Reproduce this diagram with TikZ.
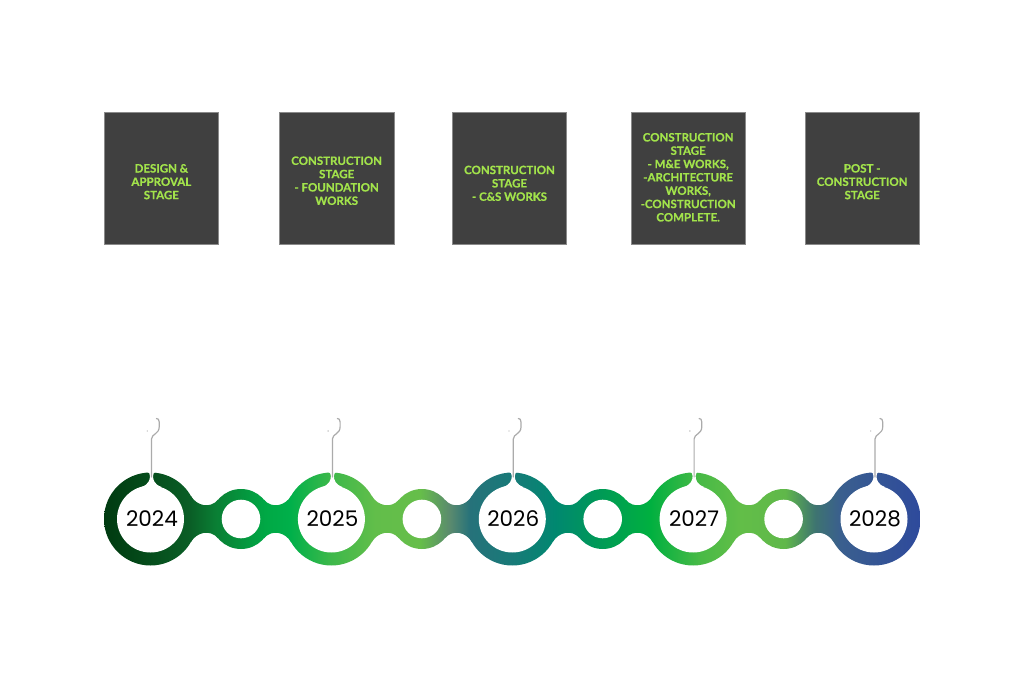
\documentclass[tikz,border=0pt]{standalone}
\usepackage{fontspec}
\setmainfont{Lato}
\newfontfamily\stagefont{Lato}[BoldFeatures={FakeBold=0.6}]
\newfontfamily\yearfont{Poppins}
\usetikzlibrary{calc}
\definecolor{g0}{HTML}{003A10}
\definecolor{g1}{HTML}{0A5E26}
\definecolor{g2}{HTML}{0A7E34}
\definecolor{g3}{HTML}{00A845}
\definecolor{g4}{HTML}{00B04A}
\definecolor{g5}{HTML}{3CB84A}
\definecolor{g6}{HTML}{62BE4A}
\definecolor{g7}{HTML}{66BE4A}
\definecolor{g8}{HTML}{5A8A6E}
\definecolor{g9}{HTML}{26727A}
\definecolor{g10}{HTML}{187A78}
\definecolor{g11}{HTML}{008870}
\definecolor{g12}{HTML}{009A56}
\definecolor{g13}{HTML}{00B040}
\definecolor{g14}{HTML}{48BA46}
\definecolor{g15}{HTML}{62BE48}
\definecolor{g16}{HTML}{60B84A}
\definecolor{g17}{HTML}{3E7470}
\definecolor{g18}{HTML}{3A5F8E}
\definecolor{g19}{HTML}{2E4A9C}
\definecolor{boxfill}{HTML}{404040}
\definecolor{boxline}{HTML}{8A8A8A}
\definecolor{lime}{HTML}{A2E34B}
\definecolor{stemgray}{HTML}{ABABAB}
\pgfdeclarehorizontalshading{timeline}{100bp}{color(0bp)=(g0); color(25bp)=(g0); color(30.27bp)=(g1); color(31.8bp)=(g2); color(34.87bp)=(g3); color(36.4bp)=(g4); color(38.85bp)=(g5); color(41.61bp)=(g6); color(44.36bp)=(g7); color(46.2bp)=(g8); color(47.43bp)=(g9); color(50bp)=(g10); color(52.64bp)=(g11); color(55.39bp)=(g12); color(58.46bp)=(g13); color(61.49bp)=(g14); color(63.97bp)=(g15); color(66.73bp)=(g16); color(68.57bp)=(g17); color(70.1bp)=(g18); color(75bp)=(g19); color(100bp)=(g19)}
\tikzset{
  stagebox/.style={draw=boxline, line width=0.8pt, fill=boxfill},
  stagetext/.style={text=lime, align=center, font=\stagefont\fontsize{11.5}{13.33}\selectfont\bfseries, inner sep=0pt},
  yeartext/.style={font=\yearfont\fontsize{21.5}{24}\selectfont, text=black, inner sep=0pt},
  stemline/.style={draw=stemgray, line width=1.2pt, line cap=round},
}
\begin{document}
\begin{tikzpicture}[x=1pt,y=1pt]
\useasboundingbox[fill=white] (0,0) rectangle (1024,672);
% stage boxes
\foreach \n/\xl/\xr in {b1/104/218.7, b2/279.3/394, b3/452.3/566.7, b4/631/745.3, b5/805/919.3}{
  \path[stagebox] (\xl,427.7) rectangle (\xr,559.7);
  \coordinate (\n) at ({(\xl+\xr)/2},493.7);
}
\node[stagetext] (t1) at ($(b1)+(0,-3.4)$) {DESIGN \&\\APPROVAL\\STAGE};
\node[stagetext] (t2) at ($(b2)+(0,-2.4)$) {CONSTRUCTION\\STAGE\\- FOUNDATION\\WORKS};
\node[stagetext] (t3) at ($(b3)+(0,-5)$) {CONSTRUCTION\\STAGE\\- C\&S WORKS};
\node[stagetext] (t4) at ($(b4)+(0,1)$) {CONSTRUCTION\\STAGE\\- M\&E WORKS,\\-ARCHITECTURE\\WORKS,\\-CONSTRUCTION\\COMPLETE.};
\node[stagetext] (t5) at ($(b5)+(0,-3.4)$) {POST -\\CONSTRUCTION\\STAGE};
% timeline centres
\coordinate (c1) at (150.5,153);
\coordinate (c2) at (331.4,153);
\coordinate (c3) at (512.3,153);
\coordinate (c4) at (693.1,153);
\coordinate (c5) at (874,153);
\coordinate (s1) at (241,153);
\coordinate (s2) at (421.9,153);
\coordinate (s3) at (602.7,153);
\coordinate (s4) at (783.6,153);
% discs
\foreach \c/\r in {c1/46.5, c2/46.5, c3/46.5, c4/46.5, c5/46.5, s1/30, s2/30, s3/30, s4/30}{
  \begin{scope}
    \clip (\c) circle[radius=\r];
    \shade[shading=timeline] (104,100) rectangle (920,210);
  \end{scope}
}
% necks
\foreach \A/\Ra/\al/\B/\Rb/\be in {c1/46.5/30/s1/30/40, s1/30/40/c2/46.5/30, c2/46.5/30/s2/30/40, s2/30/40/c3/46.5/30, c3/46.5/30/s3/30/40, s3/30/40/c4/46.5/30, c4/46.5/30/s4/30/40, s4/30/40/c5/46.5/30}{
  \begin{scope}
    \clip ($(\A)+(\al:\Ra)$) .. controls +(\al-90:12) and +(270-\be:12) .. ($(\B)+(180-\be:\Rb)$)
       -- ($(\B)+(180+\be:\Rb)$) .. controls +(\be+90:12) and +(90-\al:12) .. ($(\A)+(-\al:\Ra)$) -- cycle;
    \shade[shading=timeline] (104,100) rectangle (920,210);
  \end{scope}
}
% inner white
\foreach \c in {c1,c2,c3,c4,c5}{ \fill[white] (\c) circle[radius=33.5]; }
\foreach \c in {s1,s2,s3,s4}{ \fill[white] (\c) circle[radius=19.3]; }
% notches and stems
\foreach \c in {c1,c2,c3,c4,c5}{
  \coordinate (n) at ($(\c)+(1,0)$);
  \fill[white] ($(n)+(-10,32)$) .. controls ($(n)+(-3,34.5)$) and ($(n)+(-1.5,39)$) .. ($(n)+(-1.5,43)$)
     .. controls ($(n)+(-1.5,45.5)$) and ($(n)+(-2.5,46.5)$) .. ($(n)+(-4.5,47.5)$) -- ($(n)+(4.5,47.5)$)
     .. controls ($(n)+(2.5,46.5)$) and ($(n)+(1.5,45.5)$) .. ($(n)+(1.5,43)$)
     .. controls ($(n)+(1.5,39)$) and ($(n)+(3,34.5)$) .. ($(n)+(10,32)$) -- cycle;
  \coordinate (st) at ($(n)+(0,42)$);
  \coordinate (sh) at ($(n)+(5,100.5)$);
  \draw[stemline] (st) -- ($(n)+(0,80)$) .. controls ($(n)+(0,85)$) and ($(n)+(7.7,85)$) .. ($(n)+(7.7,92)$)
     -- ($(n)+(7.7,97)$) .. controls ($(n)+(7.7,99.5)$) and ($(n)+(6.5,100.5)$) .. (sh);
  \fill[stemgray] ($(n)+(-4.3,88)$) circle[radius=0.7];
}
% years
\node[yeartext] (y1) at ($(c1)+(1.5,0)$) {2024};
\node[yeartext] (y2) at ($(c2)+(1,0)$) {2025};
\node[yeartext] (y3) at ($(c3)+(1,0)$) {2026};
\node[yeartext] (y4) at ($(c4)+(1,0)$) {2027};
\node[yeartext] (y5) at ($(c5)+(1,0)$) {2028};
\end{tikzpicture}
\end{document}
